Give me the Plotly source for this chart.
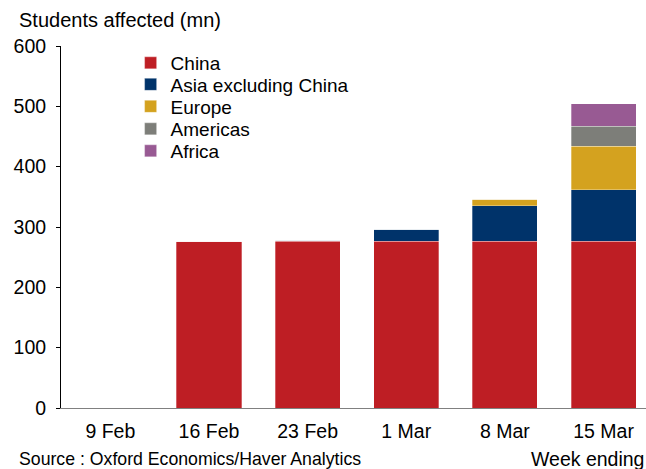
import plotly.graph_objects as go

weeks = ["9 Feb", "16 Feb", "23 Feb", "1 Mar", "8 Mar", "15 Mar"]
china = [0, 276, 276, 276, 276, 276]
asia_ex_china = [0, 0, 2, 20, 59, 86]
europe = [0, 0, 0, 0, 11, 72]
americas = [0, 0, 0, 0, 0, 33]
africa = [0, 0, 0, 0, 0, 37]

series = [
    ("China", china, "#BE1E24"),
    ("Asia excluding China", asia_ex_china, "#00336A"),
    ("Europe", europe, "#D4A21F"),
    ("Americas", americas, "#7D7E79"),
    ("Africa", africa, "#985A93"),
]

FS = 19.5
font = "Liberation Sans, Arial, sans-serif"
legend_names = ["legend", "legend2", "legend3", "legend4", "legend5"]
legend_pix = [63, 84.5, 106.5, 129, 151]  # item centre heights in pixels

fig = go.Figure()
for (name, vals, col), lg in zip(series, legend_names):
    fig.add_trace(go.Bar(
        x=list(range(len(weeks))), y=vals, name=name, legend=lg,
        marker=dict(color=col, line=dict(color="rgba(255,255,255,0.5)", width=0.6)),
    ))

legends = {}
for lg, p in zip(legend_names, legend_pix):
    legends[lg] = dict(x=0.119, y=(408 - p) / 362, xanchor="left", yanchor="middle",
                       font=dict(size=19, family=font, color="black"),
                       bgcolor="rgba(0,0,0,0)", borderwidth=0, itemwidth=30)

fig.update_layout(
    barmode="stack",
    bargap=0.34,
    width=646, height=469,
    margin=dict(l=61, r=0, t=46, b=61),
    paper_bgcolor="white", plot_bgcolor="white",
    font=dict(family=font, size=FS, color="black"),
    showlegend=True,
    xaxis=dict(tickmode="array", tickvals=list(range(len(weeks))), ticktext=weeks,
               range=[-0.5, 5.43], showline=True, linecolor="#808080", linewidth=1,
               ticks="outside", ticklen=6, tickcolor="rgba(0,0,0,0)",
               showgrid=False, zeroline=False, tickfont=dict(size=FS)),
    yaxis=dict(range=[0, 600], dtick=100, showline=True, linecolor="black", linewidth=1,
               ticks="outside", ticklen=4, tickcolor="black", showgrid=False,
               ticklabelstandoff=6,
               zeroline=False, tickfont=dict(size=FS)),
    annotations=[
        dict(text="Students affected (mn)", xref="paper", yref="paper", x=-0.075,
             y=(408 - 20) / 362, xanchor="left", yanchor="middle", showarrow=False,
             font=dict(size=20)),
        dict(text="Source : Oxford Economics/Haver Analytics", xref="paper", yref="paper",
             x=-0.075, y=(408 - 459) / 362, xanchor="left", yanchor="middle",
             showarrow=False, font=dict(size=17.7)),
        dict(text="Week ending", xref="paper", yref="paper", x=1.0, y=(408 - 459) / 362,
             xanchor="right", yanchor="middle", showarrow=False, font=dict(size=19.5)),
    ],
    **legends,
)
fig.write_html("out.html")
